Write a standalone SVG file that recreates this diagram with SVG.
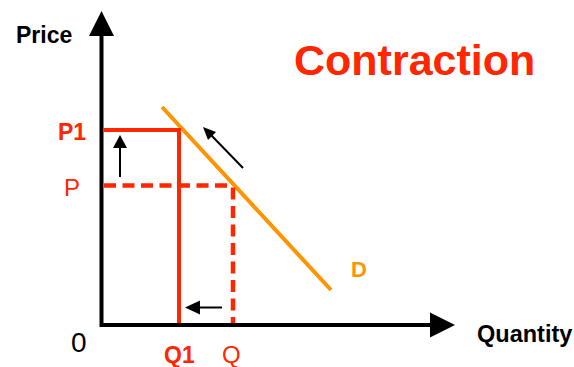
<svg xmlns="http://www.w3.org/2000/svg" width="574" height="367" viewBox="0 0 574 367">
<style>
text{font-family:"Liberation Sans",Arial,sans-serif}
.b{font-weight:bold}
.red{fill:#FF2600}
.blk{fill:#000}
.ax{stroke:#000;stroke-width:4;fill:none}
.rs{stroke:#FF2600;stroke-width:4;fill:none}
.rd{stroke:#FF2600;stroke-width:4.5;fill:none;stroke-dasharray:12 6.5}
.dem{stroke:#FF9300;stroke-width:4;fill:none}
.mv{stroke:#000;stroke-width:2;fill:none}
</style>
<rect width="574" height="367" fill="#fff"/>
<g id="axes">
<path class="ax" d="M101.5 34 V325 H431"/>
<polygon points="89,36 114,36 101.5,11" fill="#000"/>
<polygon points="430,312.5 430,337.5 455,325" fill="#000"/>
</g>
<g id="demand">
<line class="dem" x1="162" y1="107" x2="331" y2="290"/>
</g>
<g id="connectors">
<path class="rs" d="M103.5 130 H179 V323"/>
<path class="rd" d="M104 185.5 H233"/>
<path class="rd" d="M233 187.5 V323"/>
<line class="mv" x1="243" y1="168" x2="211" y2="135"/>
<polygon points="203,127 216,132 208,140" fill="#000"/>
<line class="mv" x1="120" y1="177" x2="120" y2="146"/>
<polygon points="120,135 127,148 113,148" fill="#000"/>
<line class="mv" x1="222" y1="307.5" x2="197" y2="307.5"/>
<polygon points="185,307.5 200,300.5 200,314.5" fill="#000"/>
</g>
<g id="labels">
<text class="b blk" x="16" y="42.5" font-size="23">Price</text>
<text class="b red" x="58" y="140" font-size="23">P1</text>
<text class="red" x="64" y="196" font-size="24">P</text>
<text class="blk" x="71" y="352" font-size="28">0</text>
<text class="b red" x="164" y="363" font-size="23">Q1</text>
<text class="red" x="222" y="363" font-size="24">Q</text>
<text class="b" fill="#FF9300" x="351" y="277" font-size="22">D</text>
<text class="b blk" x="477" y="342" font-size="23.5">Quantity</text>
<text class="b red" x="294" y="75" font-size="43">Contraction</text>
</g>
</svg>
